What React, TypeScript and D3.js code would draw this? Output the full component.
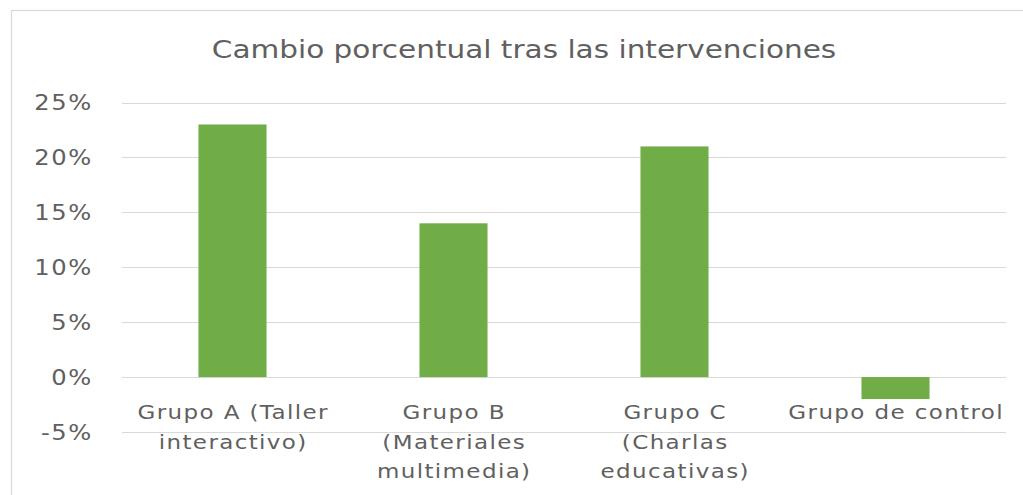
import React from "react";
import * as d3 from "d3";

const categories: string[][] = [
  ["Grupo A (Taller", "interactivo)"],
  ["Grupo B", "(Materiales", "multimedia)"],
  ["Grupo C", "(Charlas", "educativas)"],
  ["Grupo de control"],
];
const values: number[] = [0.23, 0.14, 0.21, -0.02];
const yTicks: number[] = [-0.05, 0, 0.05, 0.1, 0.15, 0.2, 0.25];
const title = "Cambio porcentual tras las intervenciones";

const W = 1023;
const H = 495;
const TEXT = "#606060";
const GRID = "#d9d9d9";
const BAR = "#70AD47";
const FONT = "'DejaVu Sans', Verdana, sans-serif";

export default function App() {
  const x = d3
    .scaleBand<number>()
    .domain(values.map((_, i) => i))
    .range([122, 1006])
    .paddingInner(0.692)
    .paddingOuter(0.346);
  const y = d3.scaleLinear().domain([-0.05, 0.25]).range([432, 102.5]);
  const fmt = (v: number) => `${Math.round(v * 100)}%`;

  return (
    <svg
      width={W}
      height={H}
      style={{ position: "absolute", left: 0, top: 0, background: "#fff" }}
    >
      <rect x={11.5} y={10.5} width={1100} height={600} fill="#fff" stroke={GRID} strokeWidth={1.2} />
      <text
        transform={`translate(524,58) scale(1.23,1)`}
        textAnchor="middle"
        fontFamily={FONT}
        fontSize={24}
        fill={TEXT}
      >
        {title}
      </text>
      {yTicks.map((t) => (
        <g key={t}>
          <line x1={122} x2={1006} y1={Math.round(y(t)) + 0.5} y2={Math.round(y(t)) + 0.5} stroke={GRID} strokeWidth={1.2} />
          <text
            transform={`translate(93,${y(t)}) scale(1.1,1)`}
            textAnchor="end"
            dy="0.36em"
            fontFamily={FONT}
            fontSize={22}
            letterSpacing={1.5}
            fill={TEXT}
          >
            {fmt(t)}
          </text>
        </g>
      ))}
      {values.map((v, i) => (
        <rect
          key={i}
          x={x(i)!}
          width={x.bandwidth()}
          y={y(Math.max(0, v))}
          height={Math.abs(y(v) - y(0))}
          fill={BAR}
        />
      ))}
      {categories.map((lines, i) => (
        <g key={i} transform={`translate(${x(i)! + x.bandwidth() / 2 + 0.7},419)`}>
          {lines.map((ln, j) => (
            <text
              key={j}
              transform={`translate(0,${j * 29.5}) scale(1.15,1)`}
              textAnchor="middle"
              fontFamily={FONT}
              fontSize={20}
              letterSpacing={1.2}
              fill={TEXT}
            >
              {ln}
            </text>
          ))}
        </g>
      ))}
    </svg>
  );
}
